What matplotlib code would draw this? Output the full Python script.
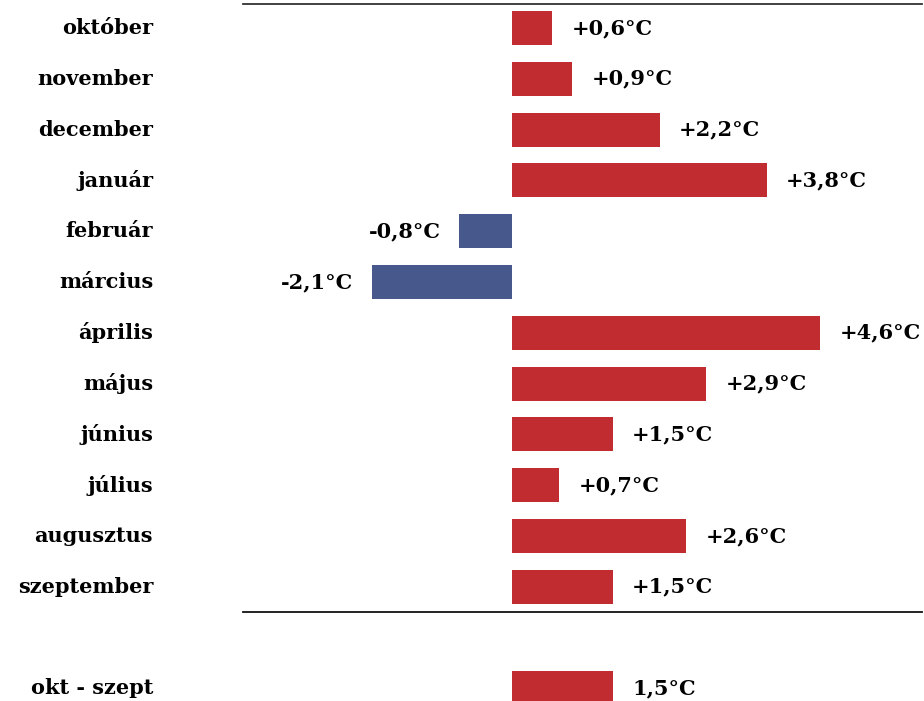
import matplotlib.pyplot as plt

# havi hőmérsékleti eltérések (°C)
honapok = ['október', 'november', 'december', 'január', 'február', 'március',
           'április', 'május', 'június', 'július', 'augusztus', 'szeptember']
elteres = [0.6, 0.9, 2.2, 3.8, -0.8, -2.1, 4.6, 2.9, 1.5, 0.7, 2.6, 1.5]
osszes_cimke = 'okt - szept'
osszes = 1.5

piros = '#C12C30'
kek = '#46588C'

plt.rcParams['font.family'] = ['DejaVu Serif']

fig = plt.figure(figsize=(9.24, 7.01), dpi=100)
ax = fig.add_axes([0, 0, 1, 1])
ax.set_xlim(-7.65, 6.15)
ax.set_ylim(13.25, -0.551)
ax.axis('off')

def cimke(v, elojel=True):
    s = f'{v:+.1f}' if elojel else f'{v:.1f}'
    return s.replace('.', ',') + '°C'

ypos = list(range(len(honapok)))
szinek = [piros if v >= 0 else kek for v in elteres]
ax.barh(ypos, elteres, height=0.67, color=szinek)
ax.barh([13], [osszes], height=0.67, color=piros)

for y, v in zip(ypos, elteres):
    ax.annotate(cimke(v), (v, y), xytext=(14 if v >= 0 else -13, 0),
                textcoords='offset points', va='center',
                ha='left' if v >= 0 else 'right',
                fontsize=15, fontweight='bold')
ax.annotate(cimke(osszes, False), (osszes, 13), xytext=(14, 0),
            textcoords='offset points', va='center', ha='left',
            fontsize=15, fontweight='bold')

for y, h in zip(ypos + [13], honapok + [osszes_cimke]):
    ax.text(0.1656, y, h, transform=ax.get_yaxis_transform(),
            ha='right', va='center', fontsize=15, fontweight='bold')

ax.axhline(-0.472, xmin=0.263, xmax=0.998, color='#333333', lw=1.3)
ax.axhline(11.5, xmin=0.263, xmax=0.998, color='#111111', lw=1.3)

fig.savefig('out.png', dpi=100)
